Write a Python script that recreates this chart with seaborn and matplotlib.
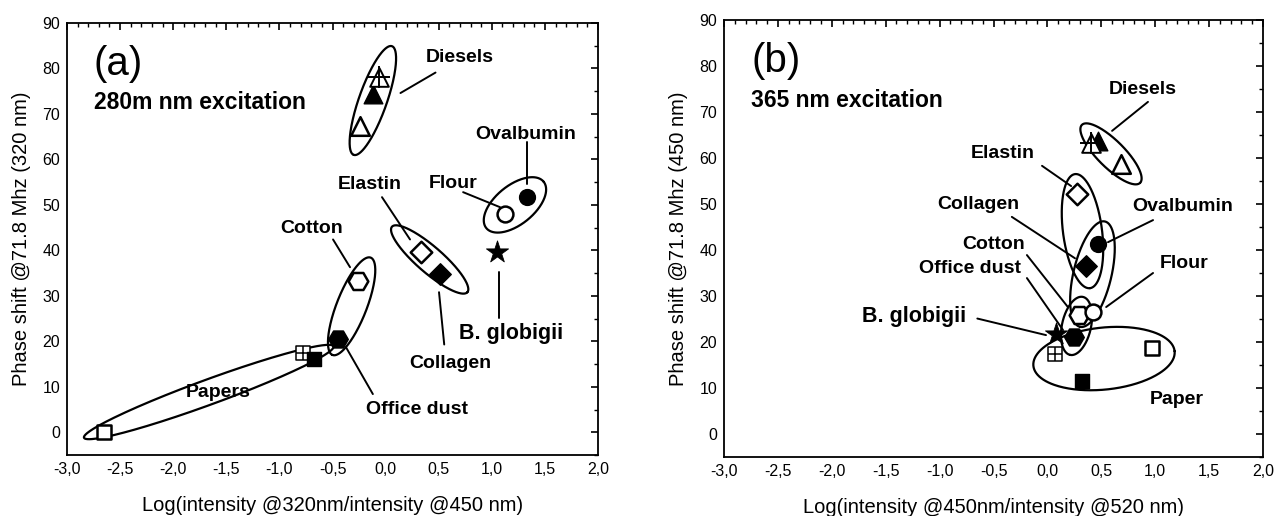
import matplotlib
matplotlib.use("Agg")
import matplotlib.pyplot as plt
import seaborn as sns
import numpy as np
from matplotlib.ticker import MultipleLocator, FuncFormatter

sns.set_theme(style="white")
plt.rcParams["font.family"] = ["Liberation Sans", "DejaVu Sans"]

# ---------------- data ----------------
samples = ["Paper 1", "Paper 2", "Paper 3", "Office dust", "Cotton",
           "Diesel 1", "Diesel 2", "Diesel 3", "Elastin", "Collagen",
           "Flour", "Ovalbumin", "B. globigii"]
marker_kind = ["sq_open", "sq_cross", "sq_fill", "hex_fill", "hex_open",
               "tri_open", "tri_fill", "tri_cross", "dia_open", "dia_fill",
               "circ_open", "circ_fill", "star"]

# panel (a): 280 nm excitation
x_a = [-2.65, -0.78, -0.67, -0.45, -0.26, -0.24, -0.12, -0.06, 0.33, 0.51, 1.12, 1.33, 1.05]
y_a = [0.0, 17.4, 16.2, 20.6, 33.2, 67.4, 74.4, 78.2, 39.7, 34.8, 47.9, 51.7, 39.7]

# panel (b): 365 nm excitation
x_b = [0.97, 0.07, 0.32, 0.25, 0.29, 0.68, 0.47, 0.40, 0.27, 0.36, 0.42, 0.47, 0.08]
y_b = [18.8, 17.5, 11.6, 21.0, 25.9, 58.7, 63.6, 63.3, 52.1, 36.6, 26.6, 41.4, 21.7]

# group ellipses: two ends of major axis (data) + minor axis length (px)
ell_a = [((0.06, 84.9), (-0.30, 61.0), 28),
         ((-0.14, 38.4), (-0.50, 17.0), 30),
         ((-2.84, -1.2), (-0.49, 18.9), 25),
         ((0.06, 45.2), (0.77, 30.8), 26),
         ((0.948, 44.9), (1.488, 55.1), 39)]
ell_b = [((0.32, 67.2), (0.86, 54.6), 27),
         ((0.256, 56.5), (0.395, 31.7), 39),
         ((0.534, 46.2), (0.302, 23.3), 38),
         ((0.33, 29.8), (0.21, 17.2), 29),
         ((-0.13, 14.8), (1.18, 18.0), 62)]

# labels: text, x, y, fontsize
lab_a = [("Diesels", 0.70, 82.4, 14), ("Ovalbumin", 1.32, 65.5, 14),
         ("Flour", 0.64, 54.6, 14), ("Elastin", -0.147, 54.5, 14),
         ("Cotton", -0.696, 44.7, 14), ("B. globigii", 1.186, 21.8, 15.5),
         ("Collagen", 0.61, 15.2, 14), ("Office dust", 0.30, 5.1, 14),
         ("Papers", -1.58, 8.65, 14)]
lab_b = [("Diesels", 0.888, 74.9, 14), ("Elastin", -0.413, 61.0, 14),
         ("Collagen", -0.64, 49.8, 14), ("Ovalbumin", 1.253, 49.4, 14),
         ("Cotton", -0.50, 41.1, 14), ("Office dust", -0.719, 36.0, 14),
         ("Flour", 1.272, 37.1, 14), ("B. globigii", -1.235, 25.5, 15.5),
         ("Paper", 1.197, 7.4, 14)]

# leader lines: x1, y1, x2, y2
lines_a = [(0.14, 74.6, 0.47, 79.1), (1.33, 63.8, 1.33, 54.5),
           (0.73, 52.8, 1.077, 49.5), (-0.034, 51.7, 0.23, 42.4),
           (0.503, 30.8, 0.552, 19.3), (1.068, 35.2, 1.068, 25.1),
           (-0.495, 42.4, -0.335, 36.3), (-0.373, 18.7, -0.12, 8.4)]
lines_b = [(0.60, 65.9, 0.933, 72.2), (-0.05, 58.3, 0.22, 53.9),
           (-0.33, 47.2, 0.256, 38.2), (0.98, 46.5, 0.562, 41.7),
           (-0.19, 38.9, 0.19, 27.6), (-0.19, 33.9, 0.145, 22.6),
           (0.98, 35.0, 0.545, 27.6), (-0.65, 25.1, -0.013, 21.5)]

panel_tag = ["(a)", "(b)"]
excitation = ["280m nm excitation", "365 nm excitation"]
xlabels = ["Log(intensity @320nm/intensity @450 nm)",
           "Log(intensity @450nm/intensity @520 nm)"]
ylabels = ["Phase shift @71.8 Mhz (320 nm)", "Phase shift @71.8 Mhz (450 nm)"]

# marker styles: list of (marker, size, face, lw)
styles = {
    "sq_open": [("s", 110, "white", 1.8)],
    "sq_cross": [("s", 110, "white", 1.1), ("+", 110, "black", 1.1)],
    "sq_fill": [("s", 110, "black", 1.0)],
    "hex_fill": [("H", 200, "black", 1.0)],
    "hex_open": [("H", 200, "white", 1.8)],
    "tri_open": [("^", 180, "white", 1.8)],
    "tri_fill": [("^", 180, "black", 1.0)],
    "tri_cross": [("^", 180, "white", 1.4), ("+", 230, "black", 1.4)],
    "dia_open": [("D", 120, "white", 1.8)],
    "dia_fill": [("D", 120, "black", 1.0)],
    "circ_open": [("o", 130, "white", 1.8)],
    "circ_fill": [("o", 130, "black", 1.0)],
    "star": [("*", 280, "black", 0.6)],
}

fig = plt.figure(figsize=(12.78, 5.16), dpi=100)
rects = [[67 / 1278, 61 / 516, 531 / 1278, 432 / 516],
         [724 / 1278, 59 / 516, 539 / 1278, 437 / 516]]

def comma_fmt(v, pos):
    return f"{v:.1f}".replace(".", ",")

def draw_ellipse(ax, p1, p2, minor_px):
    t = ax.transData
    a1 = t.transform(p1)
    a2 = t.transform(p2)
    c = (a1 + a2) / 2
    d = a2 - a1
    L = np.hypot(d[0], d[1]) / 2
    ang = np.arctan2(d[1], d[0])
    b = minor_px / 2 * fig.dpi / 100
    th = np.linspace(0, 2 * np.pi, 300)
    u = np.array([np.cos(ang), np.sin(ang)])
    v = np.array([-np.sin(ang), np.cos(ang)])
    pts = c + np.outer(L * np.cos(th), u) + np.outer(b * np.sin(th), v)
    dd = t.inverted().transform(pts)
    ax.plot(dd[:, 0], dd[:, 1], color="black", lw=1.6, zorder=2)

panels = [(x_a, y_a, ell_a, lab_a, lines_a), (x_b, y_b, ell_b, lab_b, lines_b)]
for i, (xs, ys, ells, labs, lns) in enumerate(panels):
    ax = fig.add_axes(rects[i])
    ax.set_xlim(-3.0, 2.0)
    ax.set_ylim(-5, 90)
    ax.set_facecolor("white")
    for sp in ax.spines.values():
        sp.set_color("black")
        sp.set_linewidth(1.3)
    ax.xaxis.set_major_locator(MultipleLocator(0.5))
    ax.xaxis.set_minor_locator(MultipleLocator(0.1))
    ax.yaxis.set_major_locator(MultipleLocator(10))
    ax.yaxis.set_minor_locator(MultipleLocator(5))
    ax.xaxis.set_major_formatter(FuncFormatter(comma_fmt))
    ax.set_yticks(np.arange(0, 91, 10))
    ax.tick_params(which="both", direction="in", top=True, right=True,
                   color="black", labelsize=11.5, labelcolor="black", pad=5)
    ax.tick_params(which="major", length=5, width=1.2)
    ax.tick_params(which="minor", length=2.8, width=1.0)

    for (p1, p2, mn) in ells:
        draw_ellipse(ax, p1, p2, mn)
    for (x1, y1, x2, y2) in lns:
        ax.plot([x1, x2], [y1, y2], color="black", lw=1.4, zorder=2)

    for xv, yv, kind in zip(xs, ys, marker_kind):
        for (m, s, face, lw) in styles[kind]:
            if m == "+":
                sns.scatterplot(x=[xv], y=[yv], marker=m, s=s, color="black",
                                linewidth=lw, ax=ax, zorder=4, legend=False)
            else:
                sns.scatterplot(x=[xv], y=[yv], marker=m, s=s, color=face,
                                edgecolor="black", linewidth=lw, ax=ax,
                                zorder=3, legend=False)

    for (txt, tx, ty, fs) in labs:
        ax.text(tx, ty, txt, ha="center", va="center", fontsize=fs,
                fontweight="bold", color="black", zorder=5)
    ax.text(-2.52, 81.0, panel_tag[i], ha="center", va="center",
            fontsize=29, color="black")
    ax.text(-2.75, 72.6, excitation[i], ha="left", va="center",
            fontsize=16.5, fontweight="bold", color="black")
    ax.set_xlabel(xlabels[i], fontsize=14.5, color="black", labelpad=14)
    ax.set_ylabel(ylabels[i], fontsize=14.5, color="black", labelpad=8)

fig.savefig("out.png", dpi=100, facecolor="white")
